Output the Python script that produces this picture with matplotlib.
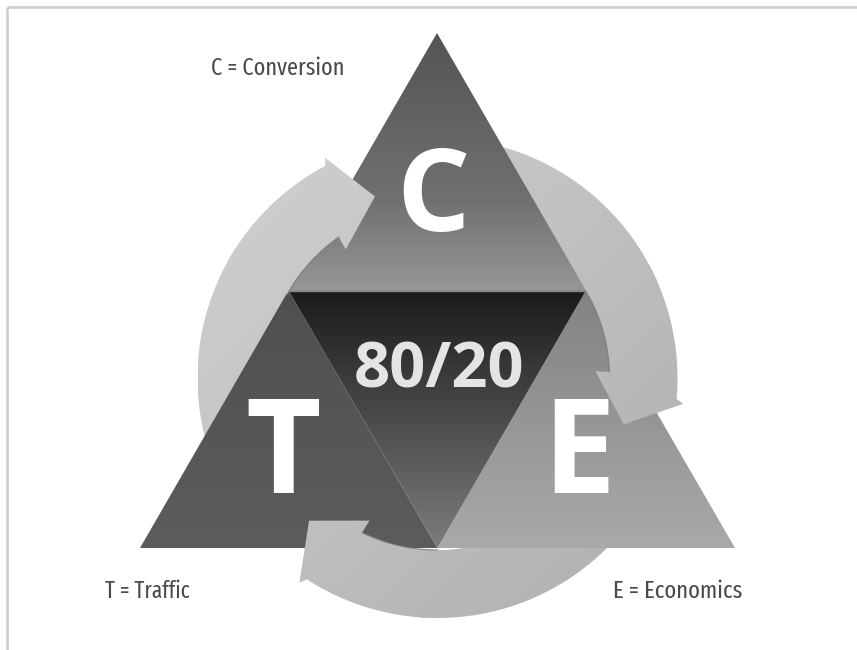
import os
import numpy as np
import matplotlib
matplotlib.use("Agg")
import matplotlib.pyplot as plt
from matplotlib.patches import Polygon
from matplotlib import font_manager as fm

# ---------------- data ----------------
letters = ["C", "T", "E"]
legend_texts = ["C = Conversion", "T = Traffic", "E = Economics"]
center_text = "80/20"

# ---------------- geometry / style ----------------
W, H = 857, 650
apex, bl, br = (437, 33), (140, 548), (735, 548)
ml = ((apex[0] + bl[0]) / 2, (apex[1] + bl[1]) / 2)
mr = ((apex[0] + br[0]) / 2, (apex[1] + br[1]) / 2)
mb = ((bl[0] + br[0]) / 2, bl[1])
CX, CY = 437.5, 378
R_IN, R_OUT = 172, 240
tips = [109, -14, -132]          # arrow tip angles (deg)

fig = plt.figure(figsize=(W / 100, H / 100), dpi=100)
ax = fig.add_axes([0, 0, 1, 1])
fig.patch.set_facecolor("white")
ax.set_xlim(0, W)
ax.set_ylim(H, 0)
ax.axis("off")


def pt(a, r):
    t = np.deg2rad(a)
    return (CX + r * np.cos(t), CY - r * np.sin(t))


def arc(a0, a1, r, n=80):
    return [pt(a, r) for a in np.linspace(a0, a1, n)]


def grad_fill(verts, stops, z, mode="v"):
    poly = Polygon(verts, closed=True, facecolor="none", edgecolor="none", zorder=z + 0.01)
    ax.add_patch(poly)
    xs = [v[0] for v in verts]
    ys = [v[1] for v in verts]
    x0, x1, y0, y1 = min(xs), max(xs), min(ys), max(ys)
    n = 300
    X, Y = np.meshgrid(np.linspace(x0, x1, n), np.linspace(y0, y1, n))
    T = Y if mode == "v" else (X + Y)
    pos = np.array([s[0] for s in stops], float)
    val = np.array([s[1] for s in stops], float)
    g = np.interp(T, pos, val) / 255.0
    img = np.dstack([g, g, g])
    im = ax.imshow(img, extent=(x0, x1, y1, y0), origin="upper", zorder=z,
                   interpolation="bilinear", aspect="auto")
    im.set_clip_path(poly)
    return poly


ring_stops = [(CX + CY - 480, 0xd2), (CX + CY + 480, 0xae)]


def band_poly(a_start, a_end_out, a_end_in, head=None):
    verts = arc(a_start, a_end_out, R_OUT)
    if head is not None:
        tip = head
        verts += [pt(tip + 8, 247), pt(tip, 192), pt(tip + 16.5, 158)]
    verts += arc(a_end_in, a_start, R_IN)
    return verts


# ring tails (under triangles)
for tip in tips:
    tail = tip + 100
    split = tip + 38
    grad_fill(band_poly(tail, split, split), ring_stops, z=1, mode="d")

# triangles
grad_fill([apex, ml, mr], [(33, 0x54), (200, 0x70), (290, 0x96)], z=2)
grad_fill([ml, bl, mb], [(290, 0x4f), (548, 0x5c)], z=2)
grad_fill([mr, mb, br], [(290, 0x82), (548, 0xa9)], z=2)
grad_fill([ml, mr, mb], [(290, 0x1a), (548, 0x7c)], z=2)
ax.plot([ml[0], mr[0]], [ml[1], mr[1]], color="#8a8a8a", lw=1.0, zorder=2.5)

# arrow heads (over triangles)
for tip in tips:
    split = tip + 42
    grad_fill(band_poly(split, tip + 9, tip + 16, head=tip), ring_stops, z=3, mode="d")
    xs, ys = zip(*arc(split, tip + 16, R_IN))
    ax.plot(xs, ys, color="#7a7a7a", lw=0.9, zorder=3.2, alpha=0.8)

# letters
letter_pos = [(433, 231, 83), (283, 493, 94), (579, 493, 94)]
for s, (x, y, fs) in zip(letters, letter_pos):
    ax.text(x, y, s, color="white", fontsize=fs, fontweight="bold",
            family=["Open Sans", "DejaVu Sans"], ha="center", va="baseline", zorder=5)
ax.text(439, 387, center_text, color="#e4e4e4", fontsize=45.5, fontweight="bold",
        family=["Open Sans", "DejaVu Sans"], ha="center", va="baseline", zorder=5)


# pick a narrow/condensed regular font if one is installed (most condensed first)
def find_narrow():
    bad = ("bold", "italic", "oblique", "light", "semibold", "mono", "thin",
           "black", "medium", "serif", "display", "ui")
    files = [os.path.basename(f.fname).lower() for f in fm.fontManager.ttflist]
    paths = [f.fname for f in fm.fontManager.ttflist]
    for key in ("extracondensed", "narrow", "condensed"):
        for fn, p in zip(files, paths):
            if key in fn and "semicondensed" not in fn and not any(k in fn for k in bad):
                if key == "condensed" and "extracondensed" in fn:
                    continue
                return p
    return None


narrow = find_narrow()

# legend labels: left x, right x, baseline y
label_pos = [(211, 344, 75), (105, 190, 598), (613, 742, 598)]
fig.canvas.draw()
renderer = fig.canvas.get_renderer()
for s, (x0, x1, y) in zip(legend_texts, label_pos):
    if narrow:
        t = ax.text(x0, y, s, color="#4a4a4a", fontproperties=fm.FontProperties(fname=narrow, size=16.5),
                    ha="left", va="baseline", zorder=5)
    else:
        t = ax.text(x0, y, s, color="#4a4a4a", fontsize=16.5, family=["Roboto", "DejaVu Sans"],
                    ha="left", va="baseline", zorder=5)
    w = t.get_window_extent(renderer).width
    t.set_fontsize(min(18.5, 16.5 * (x1 - x0) / w))

# frame
ax.plot([7, W], [7, 7], color="#cfcfcf", lw=2.0, zorder=6, solid_capstyle="butt")
ax.plot([7, 7], [7, H], color="#cfcfcf", lw=2.0, zorder=6, solid_capstyle="butt")

ax.set_xlim(0, W)
ax.set_ylim(H, 0)
fig.savefig("out.png", dpi=100, facecolor="white")
